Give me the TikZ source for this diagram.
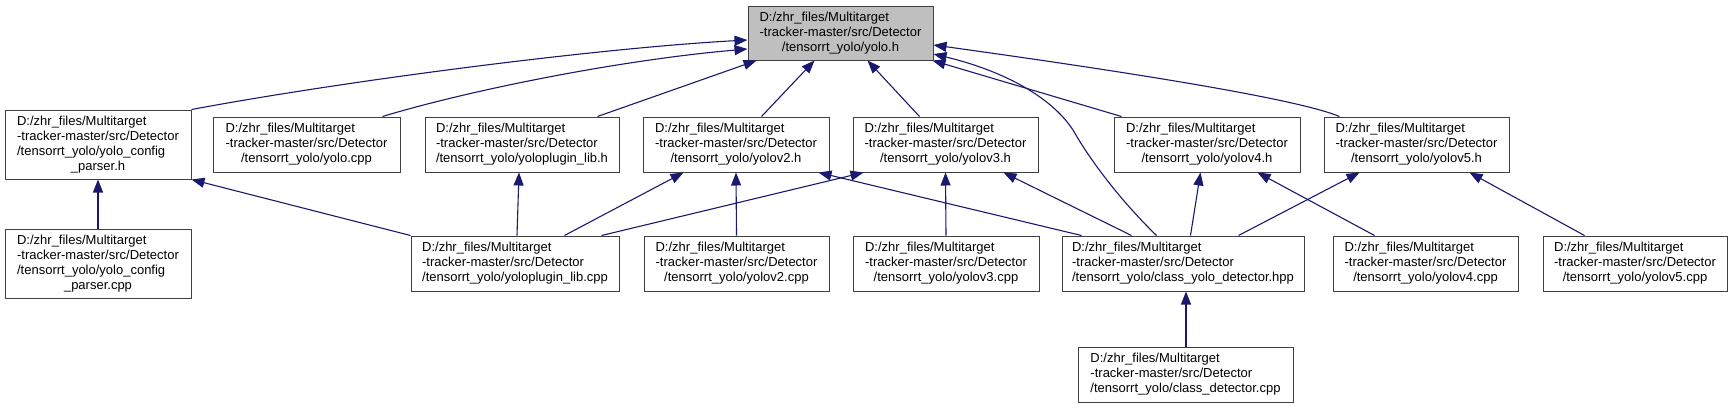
\documentclass[tikz,border=0pt]{standalone}
\usepackage{fontspec}
\setmainfont{Liberation Sans}
\usetikzlibrary{arrows.meta}
\definecolor{midblue}{RGB}{25,25,112}
\definecolor{rootgray}{RGB}{191,191,191}
\newcommand{\threelines}[3]{\begin{tabular}{@{}c@{}}\multicolumn{1}{@{}l@{}}{#1}\\\multicolumn{1}{@{}l@{}}{#2}\\#3\end{tabular}}
\newcommand{\fourlines}[4]{\begin{tabular}{@{}c@{}}\multicolumn{1}{@{}l@{}}{#1}\\\multicolumn{1}{@{}l@{}}{#2}\\\multicolumn{1}{@{}l@{}}{#3}\\#4\end{tabular}}
\newcommand{\pfa}{D:/zhr\_files/Multitarget}
\newcommand{\pfb}{-tracker-master/src/Detector}
\tikzset{
  box/.style={draw=black!75, line width=1pt, fill=white, inner sep=0pt, minimum height=55pt, font=\fontsize{13}{15}\selectfont},
  edge/.style={draw=midblue, line width=1.1pt, -{Triangle[length=13pt,width=10pt]}},
}
\begin{document}
\begin{tikzpicture}[x=1pt,y=-1pt]
\fill[white] (0,0) rectangle (1733,408);
\useasboundingbox (0,0) rectangle (1733,408);
% row 0
\node[box, fill=rootgray, minimum width=185pt, minimum height=54pt] (root) at (840.5,33) {\threelines{\pfa}{\pfb}{/tensorrt\_yolo/yolo.h}};
% row 1
\node[box, minimum width=186pt, minimum height=69pt] (cph) at (98,144.5) {\fourlines{\pfa}{\pfb}{/tensorrt\_yolo/yolo\_config}{\_parser.h}};
\node[box, minimum width=187pt] (ycpp) at (306.5,144.5) {\threelines{\pfa}{\pfb}{/tensorrt\_yolo/yolo.cpp}};
\node[box, minimum width=194pt] (plh) at (522,144.5) {\threelines{\pfa}{\pfb}{/tensorrt\_yolo/yoloplugin\_lib.h}};
\node[box, minimum width=186pt] (v2h) at (736,144.5) {\threelines{\pfa}{\pfb}{/tensorrt\_yolo/yolov2.h}};
\node[box, minimum width=185pt] (v3h) at (945.5,144.5) {\threelines{\pfa}{\pfb}{/tensorrt\_yolo/yolov3.h}};
\node[box, minimum width=186pt] (v4h) at (1207,144.5) {\threelines{\pfa}{\pfb}{/tensorrt\_yolo/yolov4.h}};
\node[box, minimum width=185pt] (v5h) at (1416.5,144.5) {\threelines{\pfa}{\pfb}{/tensorrt\_yolo/yolov5.h}};
% row 2
\node[box, minimum width=186pt, minimum height=69pt] (cpc) at (98,263.5) {\fourlines{\pfa}{\pfb}{/tensorrt\_yolo/yolo\_config}{\_parser.cpp}};
\node[box, minimum width=208pt] (plc) at (515,263.5) {\threelines{\pfa}{\pfb}{/tensorrt\_yolo/yoloplugin\_lib.cpp}};
\node[box, minimum width=185pt] (v2c) at (736.5,263.5) {\threelines{\pfa}{\pfb}{/tensorrt\_yolo/yolov2.cpp}};
\node[box, minimum width=186pt] (v3c) at (946,263.5) {\threelines{\pfa}{\pfb}{/tensorrt\_yolo/yolov3.cpp}};
\node[box, minimum width=242pt] (cyd) at (1183,263.5) {\threelines{\pfa}{\pfb}{/tensorrt\_yolo/class\_yolo\_detector.hpp}};
\node[box, minimum width=185pt] (v4c) at (1425.5,263.5) {\threelines{\pfa}{\pfb}{/tensorrt\_yolo/yolov4.cpp}};
\node[box, minimum width=184pt] (v5c) at (1635,263.5) {\threelines{\pfa}{\pfb}{/tensorrt\_yolo/yolov5.cpp}};
% row 3
\node[box, minimum width=215pt] (cdc) at (1185.5,374.5) {\threelines{\pfa}{\pfb}{/tensorrt\_yolo/class\_detector.cpp}};
% edges to root
\draw[edge] (cph.north east) .. controls (350,80) and (600,48) .. ([yshift=-7pt]root.west);
\draw[edge] ([xshift=170pt]ycpp.north west) .. controls (470,90) and (620,60) .. ([yshift=-16pt]root.west);
\draw[edge] ([xshift=173pt]plh.north west) -- ([xshift=9pt]root.south west);
\draw[edge] ([xshift=119pt]v2h.north west) -- ([xshift=67pt]root.south west);
\draw[edge] ([xshift=67pt]v3h.north west) -- ([xshift=120pt]root.south west);
\draw[edge] ([xshift=8pt]v4h.north west) -- ([xshift=-1pt]root.south east);
\draw[edge] ([xshift=16pt]v5h.north west) .. controls (1300,100) and (1150,75) .. ([yshift=-12pt]root.east);
\draw[edge] ([xshift=95pt]cyd.north west) .. controls (1120,200) and (1090,160) .. (1073,130) .. controls (1050,95) and (1000,70) .. ([yshift=-21pt]root.east);
% edges to row 1
\draw[edge] (cpc.north) -- (cph.south);
\draw[edge] (plc.north west) -- (cph.south east);
\draw[edge] ([xshift=2pt]plc.north) -- ([xshift=-3pt]plh.south);
\draw[edge] ([xshift=154pt]plc.north west) -- ([xshift=41pt]v2h.south west);
\draw[edge] ([xshift=191pt]plc.north west) -- ([xshift=11pt]v3h.south west);
\draw[edge] (v2c.north) -- (v2h.south);
\draw[edge] ([xshift=20pt]cyd.north west) -- ([xshift=-11pt]v2h.south east);
\draw[edge] (v3c.north) -- (v3h.south);
\draw[edge] ([xshift=70pt]cyd.north west) -- ([xshift=-35pt]v3h.south east);
\draw[edge] ([xshift=129pt]cyd.north west) -- ([xshift=87pt]v4h.south west);
\draw[edge] ([xshift=42pt]v4c.north west) -- ([xshift=144pt]v4h.south west);
\draw[edge] ([xshift=177pt]cyd.north west) -- ([xshift=36pt]v5h.south west);
\draw[edge] ([xshift=42pt]v5c.north west) -- ([xshift=146pt]v5h.south west);
% edge to row 2
\draw[edge] ([xshift=0.5pt]cdc.north) -- ([xshift=3pt]cyd.south);
\end{tikzpicture}
\end{document}
